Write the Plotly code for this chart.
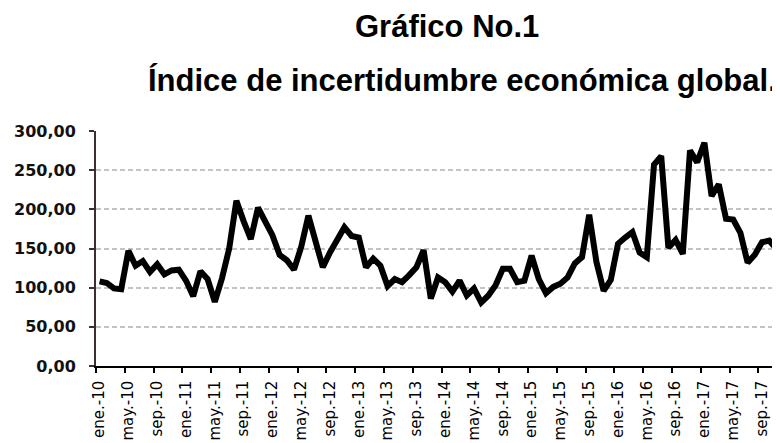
import plotly.graph_objects as go

# ---- data ----
month_abbr = ["ene.", "feb.", "mar.", "abr.", "may.", "jun.",
              "jul.", "ago.", "sep.", "oct.", "nov.", "dic."]
years = ["10", "11", "12", "13", "14", "15", "16", "17"]
categories = [f"{m}-{y}" for y in years for m in month_abbr]

index_values = [
    108, 106, 99, 98, 147, 128, 134, 120, 130, 117, 122, 123,   # 2010
    109, 89, 121, 111, 82, 112, 150, 211, 185, 162, 202, 183,   # 2011
    167, 142, 135, 123, 152, 192, 158, 126, 145, 161, 177, 166, # 2012
    164, 126, 137, 128, 102, 111, 107, 116, 126, 148, 86, 113,  # 2013
    107, 95, 109, 90, 99, 81, 90, 103, 124, 124, 107, 109,      # 2014
    141, 111, 93, 101, 105, 113, 131, 139, 193, 133, 96, 110,   # 2015
    156, 164, 171, 145, 139, 257, 268, 151, 161, 143, 275, 260, # 2016
    285, 217, 232, 188, 187, 170, 132, 142, 158, 160, 150, 132, # 2017
]

title_line1 = "Gráfico No.1"
title_line2 = "Índice de incertidumbre económica global."

y_ticks = [0, 50, 100, 150, 200, 250, 300]

fig = go.Figure()
fig.add_trace(go.Scatter(
    x=categories, y=index_values, mode="lines",
    line=dict(color="#000000", width=6),
    showlegend=False, hoverinfo="x+y",
))

fig.update_layout(
    width=780, height=443,
    margin=dict(l=88, r=8, t=123, b=85),
    paper_bgcolor="white", plot_bgcolor="white",
    separators=",.",
    showlegend=False,
)

fig.update_xaxes(
    type="category",
    range=[-0.5, 94.5],
    tickmode="linear", tick0=0, dtick=4,
    tickson="boundaries",
    ticks="outside", ticklen=5, tickwidth=1.5, tickcolor="#000000",
    tickangle=-90,
    tickfont=dict(family="DejaVu Sans", size=15, color="#000000"),
    showgrid=False,
    showline=True, linecolor="#000000", linewidth=1.5,
    automargin=False,
    ticklabelstandoff=7,
)

fig.update_yaxes(
    range=[0, 300],
    tickmode="array", tickvals=y_ticks,
    tickformat=".2f",
    ticks="outside", ticklen=5, tickwidth=1.5, tickcolor="#333333",
    tickfont=dict(family="DejaVu Sans", size=16, color="#111111", weight="bold"),
    showgrid=True, gridcolor="#c4c4c4", gridwidth=1.5, griddash="5px,3px",
    zeroline=False,
    showline=True, linecolor="#3a3030", linewidth=2,
    automargin=False,
    ticklabelstandoff=10,
)

fig.add_annotation(
    text=f"<b>{title_line1}</b>", xref="paper", yref="paper",
    x=0.513, y=1.4426, xanchor="center", yanchor="middle", showarrow=False,
    font=dict(family="Liberation Sans", size=31, color="#000000"),
)
fig.add_annotation(
    text=f"<b>{title_line2}</b>", xref="paper", yref="paper",
    x=0.536, y=1.2128, xanchor="center", yanchor="middle", showarrow=False,
    font=dict(family="Liberation Sans", size=31, color="#000000"),
)

fig.write_html("out.html")
